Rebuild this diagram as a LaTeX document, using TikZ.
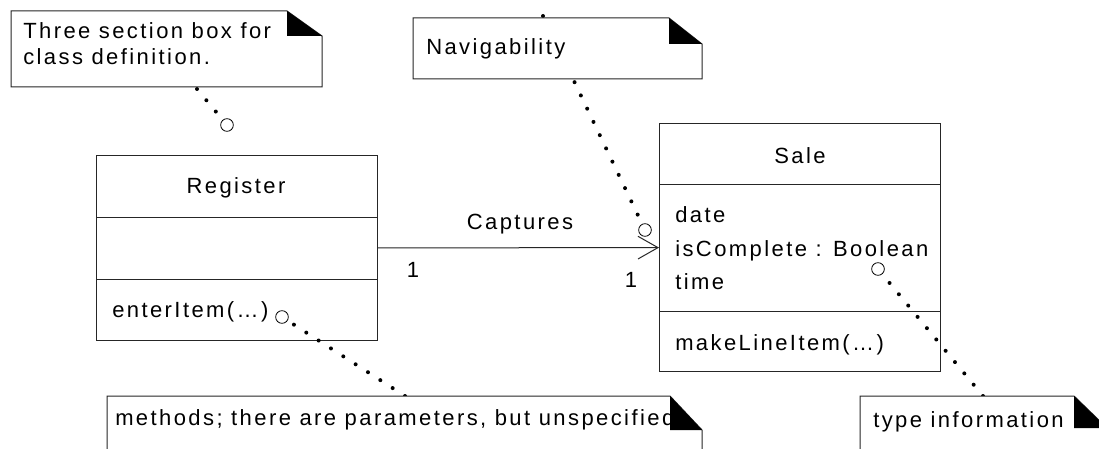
\documentclass[tikz,border=0pt]{standalone}
\usepackage{fontspec}
\setmainfont{Liberation Sans}[LetterSpace=11]
\usetikzlibrary{arrows.meta,calc}
\newcommand\umlnote[7]{%
  \filldraw[fill=white, draw=black!85, line width=0.75pt] (#1,#2) -- ({#3-#5},#2) -- (#3,{#2+#6}) -- (#3,#4) -- (#1,#4) -- cycle;
  #7
  \fill[black] ({#3-#5},#2) -- ({#3-#5},{#2+#6}) -- (#3,{#2+#6}) -- cycle;
}
\begin{document}
\begin{tikzpicture}[x=0.75pt,y=-0.75pt,
  font=\fontsize{16.5pt}{20pt}\selectfont,
  linec/.style={draw=black!85, line width=0.75pt},
  classbox/.style={draw=black!85, line width=0.75pt, fill=white, inner sep=0pt, outer sep=0pt, anchor=north west},
  txt/.style={inner sep=0pt, anchor=base west},
  ctxt/.style={inner sep=0pt, anchor=base},
  dotline/.style={line width=3pt, line cap=round, dash pattern=on 0pt off 11pt},
  hole/.style={circle, draw=black, fill=white, line width=0.6pt, minimum size=9.5pt, inner sep=0pt},
  assoc/.style={draw=black!85, line width=0.75pt, -{Straight Barb[length=15pt,width=17pt]}}
]
\clip (0,0) rectangle (1099,449);
\fill[white] (0,0) rectangle (1099,449);
% classes
\node[classbox, minimum width=210.75pt, minimum height=138pt] (reg) at (96,156) {};
\node[classbox, minimum width=210.75pt, minimum height=185.25pt] (sale) at (659,124) {};
\draw[linec] (96,217) -- (377,217);
\draw[linec] (96,279) -- (377,279);
\draw[linec] (659,185) -- (940,185);
\draw[linec] (659,311) -- (940,311);
\node[ctxt] (regname) at (236,194) {Register};
\node[txt] (regop) at (112,317) {enterItem(…)};
\node[ctxt] (salename) at (800,164) {Sale};
\node[txt] (sa1) at (675,223) {date};
\node[txt] (sa2) at (675,256) {isComplete : Boolean};
\node[txt] (sa3) at (675,289) {time};
\node[txt] (saop) at (675,350) {makeLineItem(…)};
% association
\draw[assoc] (reg) -- (sale);
\node[ctxt] (cap) at (520,229) {Captures};
\node[ctxt] (m1) at (413,277) {1};
\node[ctxt] (m2) at (631,287) {1};
% anchors of notes
\node[hole] (c1) at (227,125) {};
\node[hole] (c2) at (645,230) {};
\node[hole] (c3) at (282,317) {};
\node[hole] (c4) at (878,269) {};
\coordinate (p1) at (197,89);
\coordinate (p2) at (543,16);
\coordinate (p3) at (405,396);
\coordinate (p4) at (983,396);
\draw[dotline, shorten >=4pt] (p1) -- (c1);
\draw[dotline, shorten >=4pt] (p2) -- (c2);
\draw[dotline, shorten >=4pt] (p3) -- (c3);
\draw[dotline, shorten >=4pt] (p4) -- (c4);
% notes
\umlnote{11}{11}{322}{87}{35}{25}{%
  \node[txt] (n1a) at (23,39) {Three section box for};
  \node[txt] (n1b) at (23,65) {class definition.};}
\umlnote{413}{18}{702}{79}{33}{26}{%
  \node[txt] (n2) at (426,55) {Navigability};}
\umlnote{107}{396}{702}{470}{32}{34}{%
  \node[txt] (n3) at (115,425) {methods; there are parameters, but unspecified};}
\umlnote{860}{396}{1107}{470}{33}{32}{%
  \node[txt] (n4) at (873,427) {type information};}
\end{tikzpicture}
\end{document}
